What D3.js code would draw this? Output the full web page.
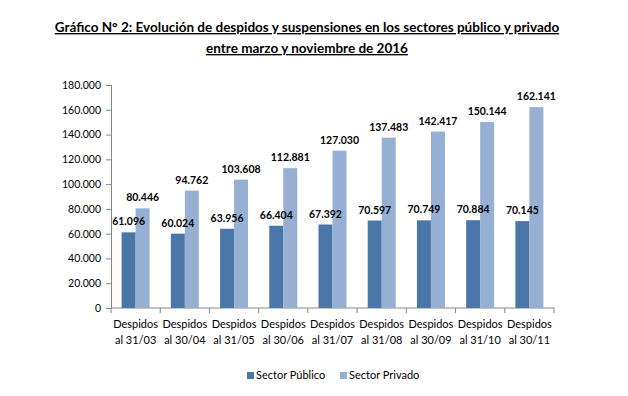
<!DOCTYPE html>
<html><head><meta charset="utf-8">
<script src="https://cdn.jsdelivr.net/npm/d3@7"></script>
<style>body{margin:0;background:#fff}svg{display:block}text{font-family:Lato,"Open Sans",sans-serif}</style>
</head><body>
<svg id="c" width="628" height="396"></svg>
<script>
const categories = ["Despidos|al 31/03","Despidos|al 30/04","Despidos|al 31/05","Despidos|al 30/06","Despidos|al 31/07","Despidos|al 31/08","Despidos|al 30/09","Despidos|al 31/10","Despidos|al 30/11"];
const seriesNames = ["Sector Público","Sector Privado"];
const publico = [61096,60024,63956,66404,67392,70597,70749,70884,70145];
const privado = [80446,94762,103608,112881,127030,137483,142417,150144,162141];
const yTicks = [0,20000,40000,60000,80000,100000,120000,140000,160000,180000];
const colors = ["#4a76a8","#95b0d3"];
const titleLines = ["Gráfico N° 2: Evolución de despidos y suspensiones en los sectores público y privado","entre marzo y noviembre de 2016"];

const svg = d3.select("#c");
const loc = d3.formatLocale({decimal:",",thousands:".",grouping:[3],currency:["$",""]});
const fmt = loc.format(",");

const x = d3.scaleBand().domain(categories).range([111,554]).padding(0);
const groupW = 28;
const xs = d3.scaleBand().domain(seriesNames).range([0,groupW]);
const y = d3.scaleLinear().domain([0,180000]).range([308,85]);

// title
svg.selectAll("text.title").data(titleLines).join("text")
  .attr("class","title")
  .attr("x",307).attr("y",(d,i)=>32+i*21)
  .attr("text-anchor","middle")
  .attr("font-weight","bold").attr("font-size",13.5)
  .attr("text-decoration","underline")
  .attr("fill","#000")
  .text(d=>d);

// y axis
const yAxis = svg.append("g").attr("transform","translate(111,0)")
  .call(d3.axisLeft(y).tickValues(yTicks).tickFormat(fmt).tickSizeOuter(0).tickSize(5).tickPadding(5));
yAxis.select(".domain").attr("stroke","#868686");
yAxis.selectAll(".tick line").attr("stroke","#868686");
yAxis.selectAll(".tick text").attr("font-size",10.5).attr("fill","#000").attr("font-family","Lato");

// x axis baseline with boundary ticks
const xg = svg.append("g");
xg.append("line").attr("x1",111).attr("x2",554).attr("y1",y(0)).attr("y2",y(0)).attr("stroke","#868686");
const bounds = categories.map(c=>x(c)).concat([x(categories[categories.length-1])+x.bandwidth()]);
xg.selectAll("line.bt").data(bounds).join("line").attr("class","bt")
  .attr("x1",d=>d).attr("x2",d=>d).attr("y1",y(0)).attr("y2",y(0)+5).attr("stroke","#868686");
const xl = xg.selectAll("text.xl").data(categories).join("text").attr("class","xl")
  .attr("text-anchor","middle").attr("font-size",11).attr("fill","#000");
xl.each(function(d){
  const t = d3.select(this); const parts = d.split("|");
  parts.forEach((p,i)=>t.append("tspan").attr("x",x(d)+x.bandwidth()/2).attr("y",328+i*15.5).text(p));
});

// bars
const data = [publico, privado];
const off = (x.bandwidth()-groupW)/2;
const barG = svg.append("g");
const labG = svg.append("g");
data.forEach((vals,si)=>{
  barG.append("g").selectAll("rect").data(vals).join("rect")
    .attr("x",(d,i)=>x(categories[i])+off+xs(seriesNames[si]))
    .attr("width",xs.bandwidth())
    .attr("y",d=>y(d)).attr("height",d=>y(0)-y(d))
    .attr("fill",colors[si]);
  labG.append("g").selectAll("text").data(vals).join("text")
    .attr("x",(d,i)=>x(categories[i])+off+xs(seriesNames[si])+xs.bandwidth()/2)
    .attr("y",d=>y(d)-7)
    .attr("text-anchor","middle").attr("font-weight","bold").attr("font-size",10.5).attr("fill","#000")
    .text(d=>fmt(d));
});

// legend
const lg = svg.append("g");
const lx = [247,340];
seriesNames.forEach((s,i)=>{
  lg.append("rect").attr("x",lx[i]).attr("y",372).attr("width",7).attr("height",7).attr("fill",colors[i]);
  lg.append("text").attr("x",lx[i]+9).attr("y",379).attr("font-size",11).attr("fill","#000").text(s);
});
</script>
</body></html>
